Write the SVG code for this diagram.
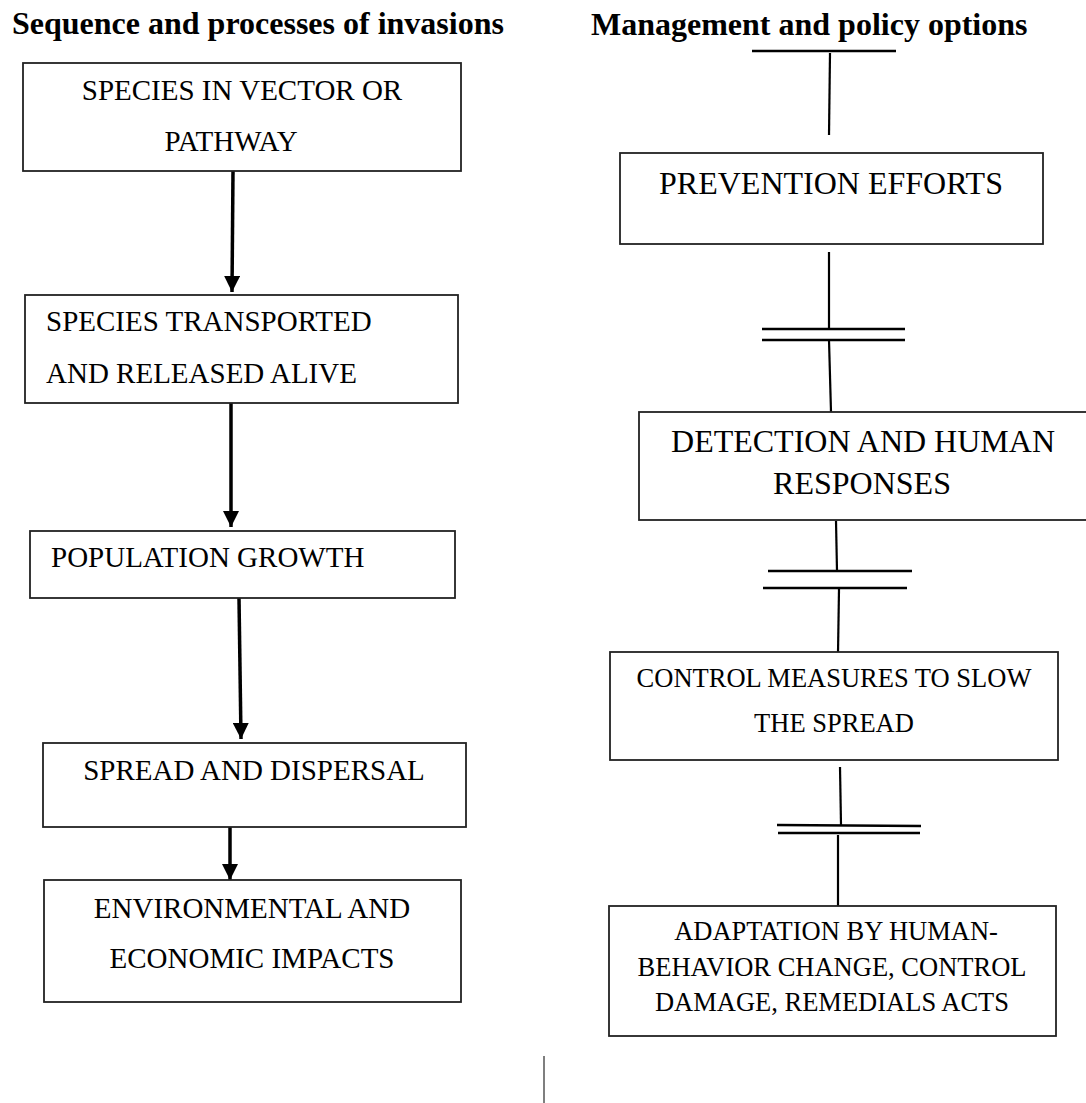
<svg xmlns="http://www.w3.org/2000/svg" width="1086" height="1103" viewBox="0 0 1086 1103">
<defs>
<marker id="ah" markerUnits="userSpaceOnUse" markerWidth="16" markerHeight="16" viewBox="0 0 16 16" refX="16" refY="8" orient="auto">
<path d="M0,0 L16,8 L0,16 z" fill="#000"/>
</marker>
<style>
.box{fill:#fff;stroke:#222;stroke-width:1.8}
.t{font-family:"Liberation Serif","Times New Roman",serif;fill:#000}
.l{font-size:29px}
.r{font-size:32px}
.s{font-size:26.5px}
.h{font-family:"Liberation Serif","Times New Roman",serif;font-weight:bold;font-size:32px;fill:#000}
.arr{stroke:#000;stroke-width:3.5;fill:none;marker-end:url(#ah)}
.ln{stroke:#000;stroke-width:2.2;fill:none}
.bar{stroke:#000;stroke-width:2.6;fill:none}
</style>
</defs>
<rect width="1086" height="1103" fill="#fff"/>
<text class="h" x="12" y="34">Sequence and processes of invasions</text>
<text class="h" x="591" y="35">Management and policy options</text>

<g id="connectors">
<line class="arr" x1="233" y1="171" x2="232" y2="292"/>
<line class="arr" x1="231" y1="403" x2="231" y2="527"/>
<line class="arr" x1="239" y1="598" x2="241" y2="739"/>
<line class="arr" x1="230" y1="822" x2="230" y2="880"/>
<line class="bar" x1="752" y1="51" x2="896" y2="51"/>
<line class="ln" x1="830" y1="53" x2="829" y2="135"/>
<line class="ln" x1="829" y1="252" x2="829" y2="329"/>
<line class="bar" x1="762" y1="329" x2="905" y2="329"/>
<line class="bar" x1="762" y1="340" x2="905" y2="340"/>
<line class="ln" x1="829" y1="340" x2="831" y2="412"/>
<line class="ln" x1="836" y1="521" x2="837" y2="571"/>
<line class="bar" x1="768" y1="571" x2="912" y2="571"/>
<line class="bar" x1="763" y1="588" x2="907" y2="588"/>
<line class="ln" x1="839" y1="589" x2="838" y2="653"/>
<line class="ln" x1="840" y1="767" x2="841" y2="825"/>
<line class="bar" x1="777" y1="825" x2="921" y2="826"/>
<line class="bar" x1="778" y1="833" x2="920" y2="833"/>
<line class="ln" x1="838" y1="835" x2="838" y2="908"/>
<line x1="544" y1="1056" x2="544" y2="1103" stroke="#555" stroke-width="1.5"/>
</g>

<g id="n1">
<rect class="box" x="23" y="63" width="438" height="108"/>
<text class="t l" x="242" y="100" text-anchor="middle">SPECIES IN VECTOR OR</text>
<text class="t l" x="231" y="151" text-anchor="middle">PATHWAY</text>
</g>
<g id="n2">
<rect class="box" x="25" y="295" width="433" height="108"/>
<text class="t l" x="46" y="331">SPECIES TRANSPORTED</text>
<text class="t l" x="46" y="383">AND RELEASED ALIVE</text>
</g>
<g id="n3">
<rect class="box" x="30" y="531" width="425" height="67"/>
<text class="t l" x="51" y="567">POPULATION GROWTH</text>
</g>
<g id="n4">
<rect class="box" x="43" y="743" width="423" height="84"/>
<text class="t l" x="254" y="780" text-anchor="middle">SPREAD AND DISPERSAL</text>
</g>
<g id="n5">
<rect class="box" x="44" y="880" width="417" height="122"/>
<text class="t l" x="252" y="918" text-anchor="middle">ENVIRONMENTAL AND</text>
<text class="t l" x="252" y="968" text-anchor="middle">ECONOMIC IMPACTS</text>
</g>

<g id="m1">
<rect class="box" x="620" y="153" width="423" height="91"/>
<text class="t r" x="831" y="194" text-anchor="middle">PREVENTION EFFORTS</text>
</g>
<g id="m2">
<rect class="box" x="639" y="412" width="450" height="108"/>
<text class="t r" x="863" y="452" text-anchor="middle">DETECTION AND HUMAN</text>
<text class="t r" x="862" y="494" text-anchor="middle">RESPONSES</text>
</g>
<g id="m3">
<rect class="box" x="610" y="652" width="448" height="108"/>
<text class="t s" x="834" y="687" text-anchor="middle">CONTROL MEASURES TO SLOW</text>
<text class="t s" x="834" y="732" text-anchor="middle">THE SPREAD</text>
</g>
<g id="m4">
<rect class="box" x="609" y="906" width="447" height="130"/>
<text class="t s" x="836" y="940" text-anchor="middle">ADAPTATION BY HUMAN-</text>
<text class="t s" x="832" y="976" text-anchor="middle">BEHAVIOR CHANGE, CONTROL</text>
<text class="t s" x="832" y="1011" text-anchor="middle">DAMAGE, REMEDIALS ACTS</text>
</g>
</svg>
